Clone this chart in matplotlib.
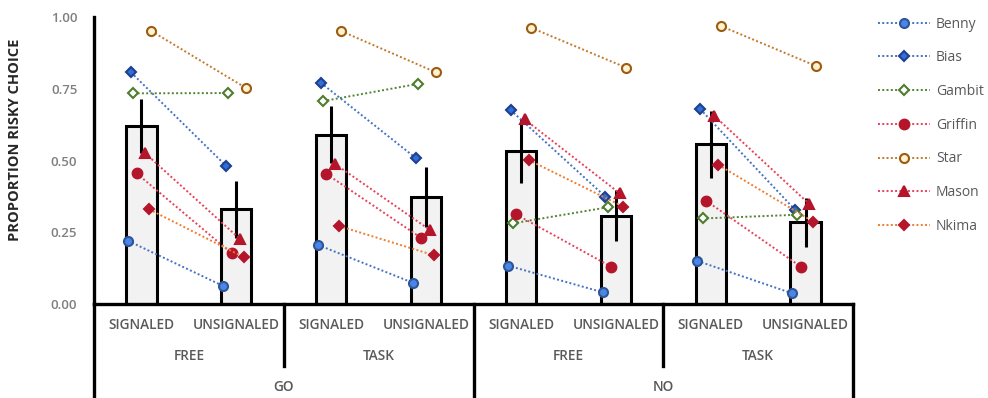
import matplotlib.pyplot as plt
import matplotlib.transforms as mtransforms
import numpy as np

plt.rcParams['font.family'] = ['Open Sans', 'DejaVu Sans']

# categories (lowest level first)
conditions = ['SIGNALED', 'UNSIGNALED'] * 4
contexts = ['FREE', 'TASK', 'FREE', 'TASK']
trials = ['GO', 'NO']

# group means and error
means = [0.62, 0.33, 0.59, 0.372, 0.533, 0.308, 0.556, 0.285]
errs = [0.095, 0.10, 0.10, 0.105, 0.113, 0.088, 0.118, 0.085]

# individual subjects, one value per bar
subjects = ['Benny', 'Bias', 'Gambit', 'Griffin', 'Star', 'Mason', 'Nkima']
benny = [0.22, 0.063, 0.206, 0.074, 0.134, 0.041, 0.15, 0.037]
bias = [0.807, 0.482, 0.771, 0.509, 0.676, 0.374, 0.679, 0.328]
gambit = [0.734, 0.735, 0.707, 0.767, 0.281, 0.337, 0.298, 0.311]
griffin = [0.455, 0.177, 0.453, 0.23, 0.312, 0.13, 0.36, 0.13]
star = [0.951, 0.752, 0.951, 0.807, 0.963, 0.824, 0.969, 0.83]
mason = [0.525, 0.226, 0.488, 0.258, 0.643, 0.386, 0.655, 0.348]
nkima = [0.33, 0.163, 0.272, 0.17, 0.502, 0.339, 0.485, 0.287]
subj_vals = [benny, bias, gambit, griffin, star, mason, nkima]

# style per subject: offset, marker, size, face, edge, line colour
styles = [
    (-0.14, 'o', 6.5, '#4a86e8', '#2f5597', '#4472c4'),
    (-0.11, 'D', 4.8, '#2e6fd8', '#1f3f8f', '#4472c4'),
    (-0.085, 'D', 4.8, 'white', '#4e7d2e', '#548235'),
    (-0.05, 'o', 7, '#b5152b', '#b5152b', '#e8405a'),
    (0.105, 'o', 6.5, '#fff2cc', '#9c5b12', '#c5782a'),
    (0.04, '^', 6.5, '#b5152b', '#b5152b', '#e8405a'),
    (0.08, 'D', 5.3, '#b5152b', '#b5152b', '#ed7d31'),
]

fig = plt.figure(figsize=(9.88, 3.98), dpi=100)
ax = fig.add_axes([94 / 988, 1 - 304 / 398, (853 - 94) / 988, 287 / 398])

x = np.arange(len(means))
ax.bar(x, means, width=0.32, color='#f2f2f2', edgecolor='black', linewidth=2.2, zorder=2)
ax.errorbar(x, means, yerr=errs, fmt='none', ecolor='black', elinewidth=2.2, capsize=0, zorder=3)

for name, vals, st in zip(subjects, subj_vals, styles):
    off, mk, ms, fc, ec, lc = st
    for g in range(4):
        xs = x[2 * g:2 * g + 2] + off
        ys = vals[2 * g:2 * g + 2]
        ax.plot(xs, ys, color=lc, linestyle=(0, (1, 1.2)), linewidth=1.4,
                marker=mk, markersize=ms, markerfacecolor=fc, markeredgecolor=ec,
                markeredgewidth=1.5, zorder=4, label=name if g == 0 else None)

ax.set_xlim(-0.5, 7.5)
ax.set_ylim(0, 1)
ax.set_yticks([0, 0.25, 0.5, 0.75, 1.0])
ax.set_yticklabels(['0.00', '0.25', '0.50', '0.75', '1.00'])
ax.tick_params(axis='y', length=0, pad=12, labelsize=9.5, labelcolor='#7f7f7f')
for lab in ax.get_yticklabels():
    lab.set_fontweight('semibold')
ax.set_xticks([])
for s in ['top', 'right']:
    ax.spines[s].set_visible(False)
ax.spines['left'].set_linewidth(2.4)
ax.spines['bottom'].set_linewidth(2.4)
ax.set_ylabel('PROPORTION RISKY CHOICE', fontsize=10.5, fontweight='bold', color='#262626')
ax.yaxis.set_label_coords(-0.095, 0.571)

# multi-level category axis
tr = mtransforms.blended_transform_factory(ax.transData, ax.transAxes)
line_kw = dict(color='black', linewidth=2.4, transform=tr, clip_on=False)
for xb in [-0.5, 3.5, 7.5]:
    ax.plot([xb, xb], [0, -0.36], **line_kw)
for xb in [1.5, 5.5]:
    ax.plot([xb, xb], [0, -0.216], **line_kw)
txt_kw = dict(transform=tr, ha='center', va='center', color='#595959', fontsize=9.8, fontweight='semibold')
for i, c in enumerate(conditions):
    ax.text(i, -0.073, c, **txt_kw)
for i, c in enumerate(contexts):
    ax.text(2 * i + 0.5, -0.181, c, **txt_kw)
for i, c in enumerate(trials):
    ax.text(4 * i + 1.5, -0.289, c, **txt_kw)

leg = fig.legend(loc='upper left', bbox_to_anchor=(865 / 988, 1 - 4 / 398), frameon=False,
                 fontsize=10, handlelength=3.8, labelspacing=1.35, handletextpad=0.4)
for t in leg.get_texts():
    t.set_color('#595959')

fig.savefig('out.png', dpi=100)
